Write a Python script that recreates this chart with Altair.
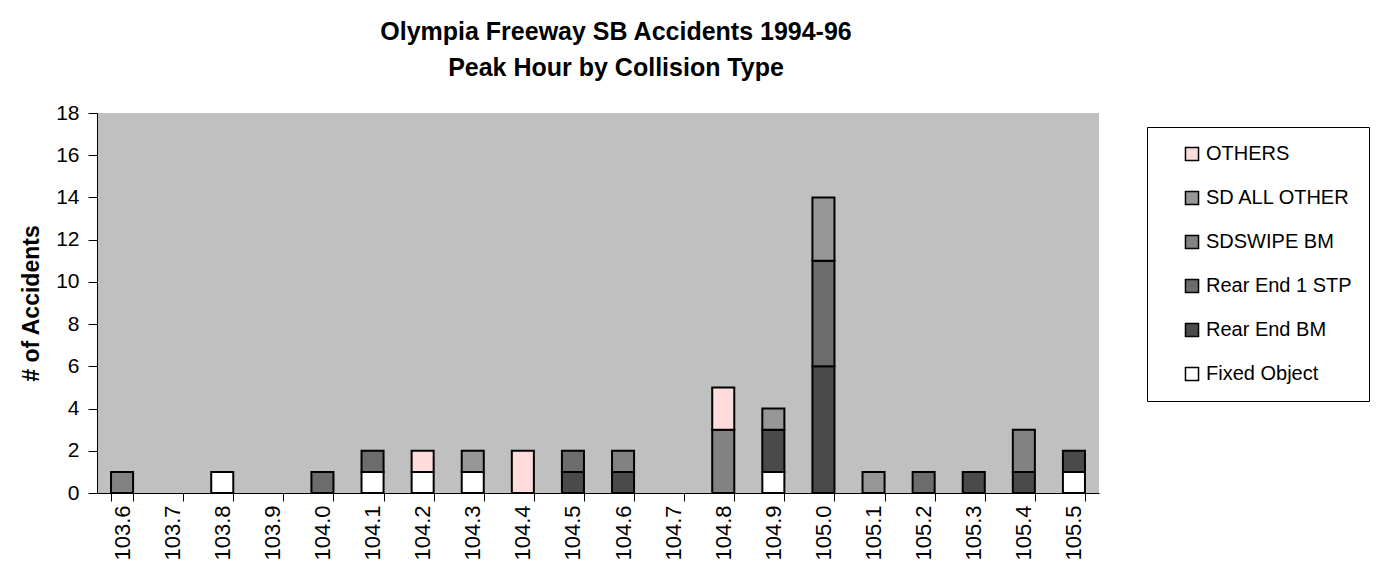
import altair as alt
import pandas as pd

cats = ["103.6", "103.7", "103.8", "103.9", "104.0", "104.1", "104.2", "104.3", "104.4", "104.5",
        "104.6", "104.7", "104.8", "104.9", "105.0", "105.1", "105.2", "105.3", "105.4", "105.5"]

fixed_object = [0, 0, 1, 0, 0, 1, 1, 1, 0, 0, 0, 0, 0, 1, 0, 0, 0, 0, 0, 1]
rear_end_bm  = [0, 0, 0, 0, 0, 0, 0, 0, 0, 1, 1, 0, 0, 2, 6, 0, 0, 1, 1, 1]
rear_end_1stp = [0, 0, 0, 0, 1, 1, 0, 0, 0, 1, 0, 0, 0, 0, 5, 0, 1, 0, 0, 0]
sdswipe_bm   = [1, 0, 0, 0, 0, 0, 0, 0, 0, 0, 1, 0, 3, 0, 0, 0, 0, 0, 2, 0]
sd_all_other = [0, 0, 0, 0, 0, 0, 0, 1, 0, 0, 0, 0, 0, 1, 3, 1, 0, 0, 0, 0]
others       = [0, 0, 0, 0, 0, 0, 1, 0, 2, 0, 0, 0, 2, 0, 0, 0, 0, 0, 0, 0]

series = [
    ("Fixed Object", fixed_object, "#ffffff"),
    ("Rear End BM", rear_end_bm, "#4a4a4a"),
    ("Rear End 1 STP", rear_end_1stp, "#6c6c6c"),
    ("SDSWIPE BM", sdswipe_bm, "#828282"),
    ("SD ALL OTHER", sd_all_other, "#979797"),
    ("OTHERS", others, "#ffdcdc"),
]

rows = []
for order, (name, vals, _) in enumerate(series):
    for c, v in zip(cats, vals):
        if v > 0:
            rows.append({"pos": c, "type": name, "count": v, "ord": order})
df = pd.DataFrame(rows)

legend_order = [s[0] for s in series][::-1]
legend_colors = [s[2] for s in series][::-1]

FONT = "Liberation Sans"

chart = alt.Chart(df).mark_bar(stroke="black", strokeWidth=2).encode(
    x=alt.X("pos:N", sort=cats, title=None,
            scale=alt.Scale(domain=cats, paddingInner=0.56, paddingOuter=0.28),
            axis=alt.Axis(labelAngle=-90, labelFontSize=22, labelFont=FONT, labelColor="black",
                          tickBand="extent", tickSize=8, tickColor="black", domainColor="black",
                          labelPadding=4, labelAlign="right", labelBaseline="middle")),
    y=alt.Y("count:Q", stack="zero", title="# of Accidents",
            scale=alt.Scale(domain=[0, 18], nice=False),
            axis=alt.Axis(values=list(range(0, 19, 2)), labelFontSize=21, labelFont=FONT,
                          labelColor="black", tickSize=9, tickColor="black", domainColor="black",
                          grid=False, titleFontSize=23, titleFont=FONT, titleFontWeight="bold",
                          titleColor="black", titlePadding=12, labelPadding=9)),
    color=alt.Color("type:N", scale=alt.Scale(domain=legend_order, range=legend_colors),
                    legend=alt.Legend(title=None, orient="none", legendX=1050, legendY=14,
                                      symbolType="square", symbolSize=170,
                                      symbolStrokeColor="black", symbolStrokeWidth=1.5,
                                      symbolOpacity=1,
                                      labelFontSize=20, labelFont=FONT, labelColor="black",
                                      rowPadding=24, padding=17, symbolOffset=18,
                                      strokeColor="black", fillColor="white", labelOffset=4)),
    order=alt.Order("ord:Q", sort="ascending"),
).properties(
    width=1002, height=380,
    title=alt.TitleParams(["Olympia Freeway SB Accidents 1994-96", "Peak Hour by Collision Type"],
                          fontSize=25, font=FONT, fontWeight="bold", color="black",
                          lineHeight=36, anchor="middle", dx=18, offset=21),
    autosize=alt.AutoSizeParams(type="none"),
    padding={"left": 89, "top": 105, "right": 281, "bottom": 77},
    background="white",
).configure_view(fill="#c0c0c0", stroke=None)

chart.save("out.html", embed_options={"renderer": "svg", "actions": False})
